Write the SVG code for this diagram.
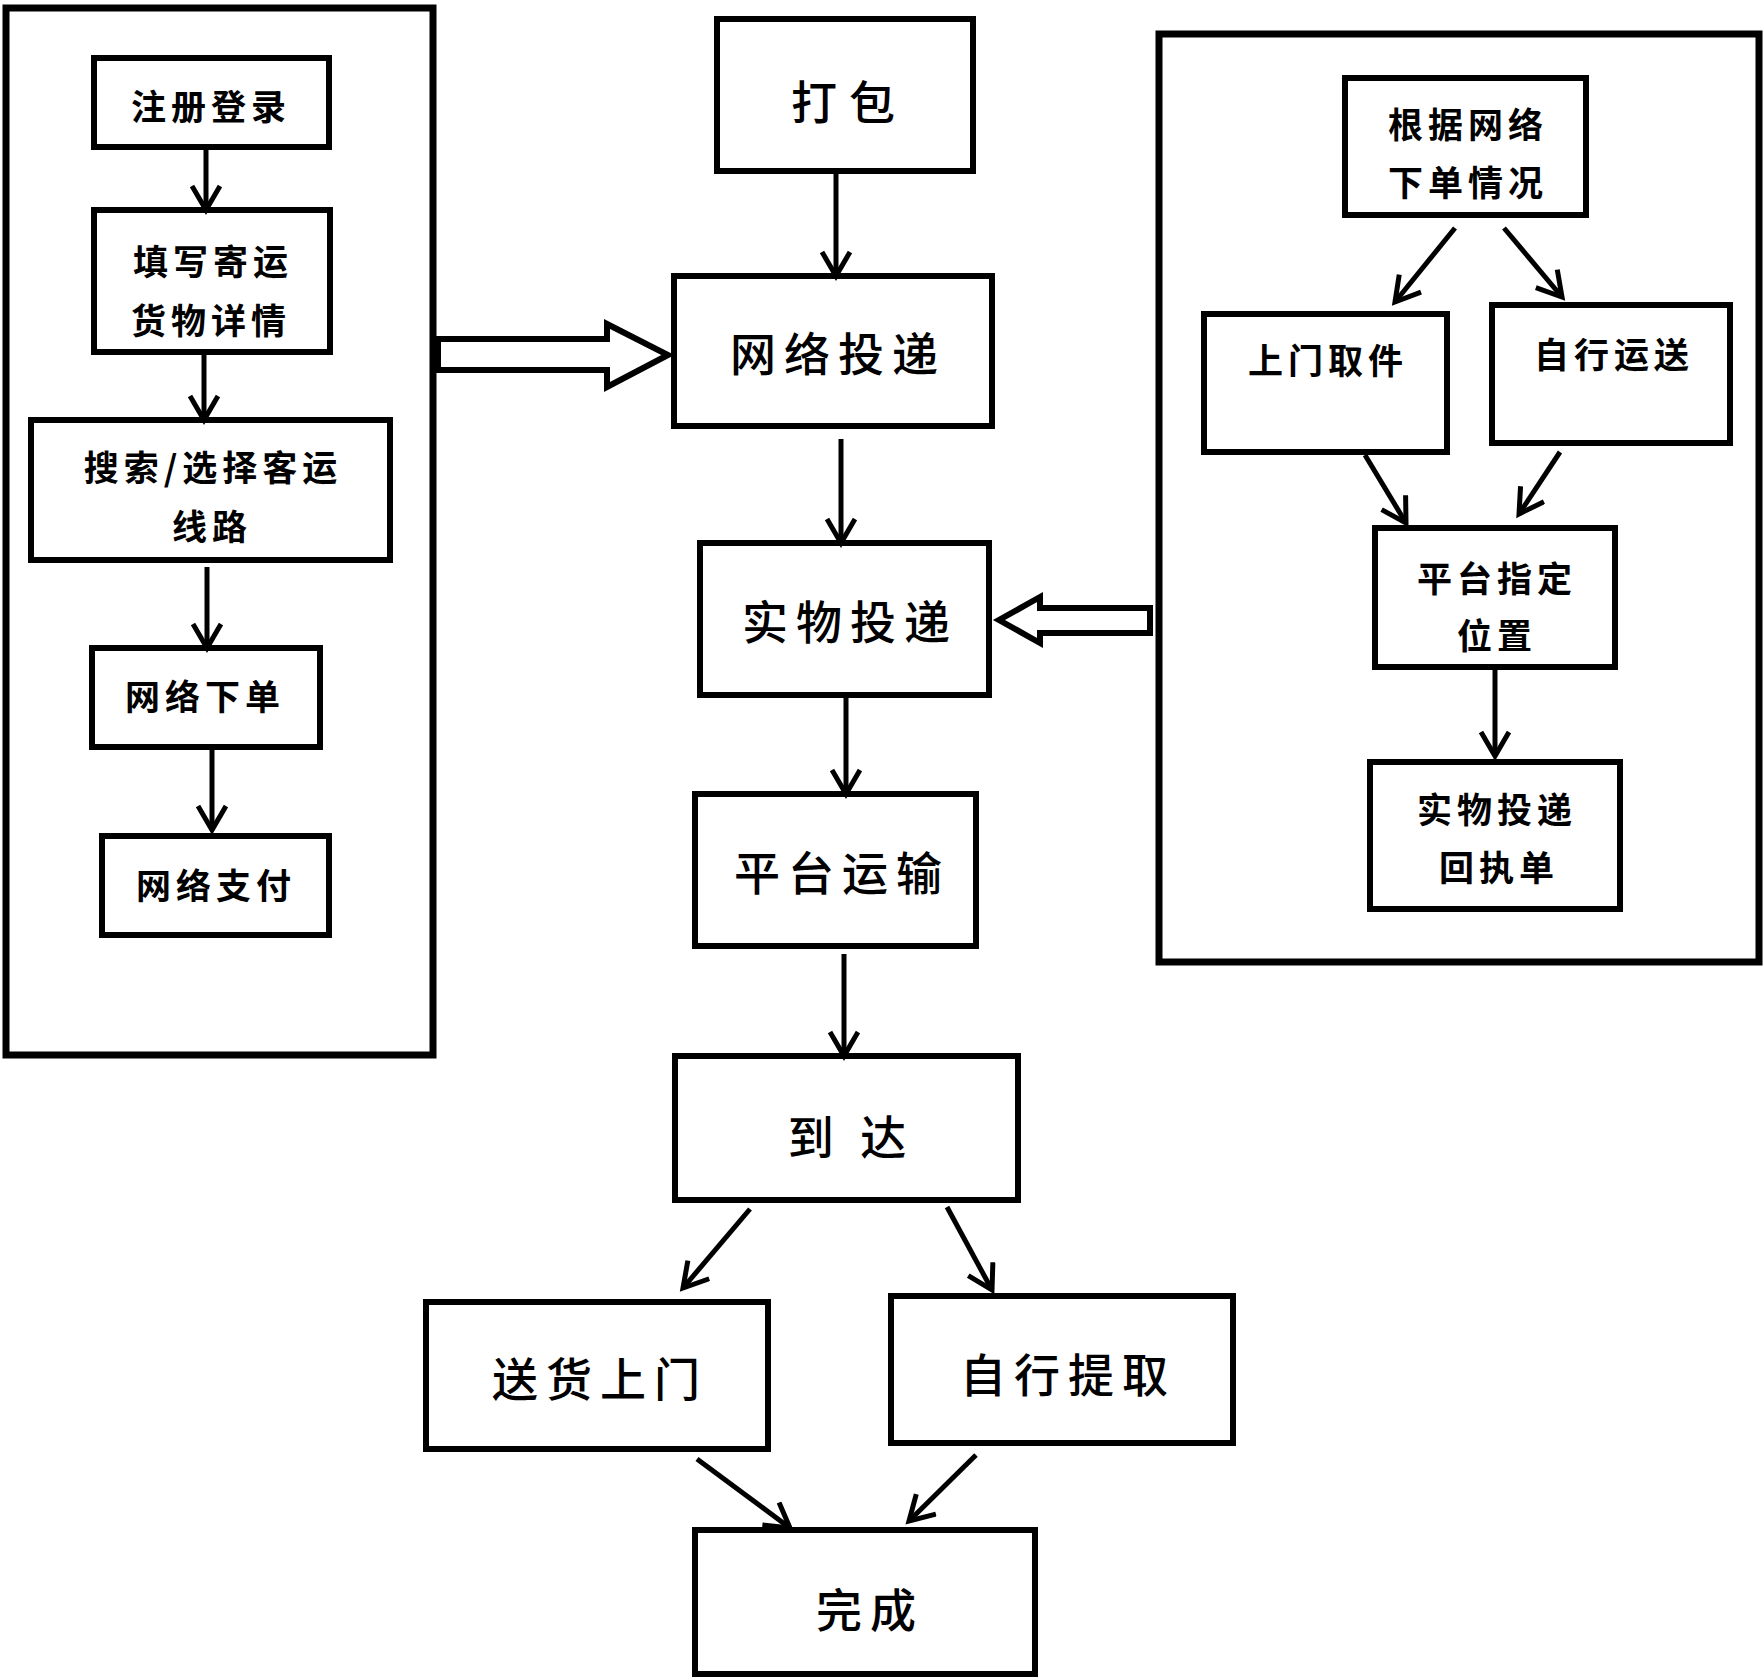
<svg xmlns="http://www.w3.org/2000/svg" width="1764" height="1680" viewBox="0 0 1764 1680">
<defs>
<style>
.box{fill:#fff;stroke:#000;stroke-width:6}
.big{fill:none;stroke:#000;stroke-width:7}
.t{font-family:"Noto Sans CJK SC","Liberation Serif",sans-serif;fill:#000;text-anchor:middle;dominant-baseline:central}
.s{font-size:35px;font-weight:bold;letter-spacing:5px}
.m{font-size:46px;font-weight:500;letter-spacing:8px}
.c{fill:none;stroke:#000;stroke-width:5;marker-end:url(#ah)}
.blk{fill:#fff;stroke:#000;stroke-width:6;stroke-linejoin:miter}
</style>
<marker id="ah" markerUnits="userSpaceOnUse" markerWidth="40" markerHeight="40" refX="27" refY="16" orient="auto">
<path d="M3,2 L27,16 L3,30" fill="none" stroke="#000" stroke-width="5"/>
</marker>
</defs>
<rect width="1764" height="1680" fill="#fff"/>
<g id="group-left"><rect class="big" x="6" y="8" width="427" height="1047"/></g>
<g id="group-right"><rect class="big" x="1159" y="34" width="600" height="928"/></g>

<g id="n-register"><rect class="box" x="94" y="58" width="235" height="89"/><text class="t s" x="211" y="104">注册登录</text></g>
<g id="n-fill"><rect class="box" x="94" y="210" width="236" height="142"/><text class="t s" x="213" y="259">填写寄运</text><text class="t s" x="211" y="318">货物详情</text></g>
<g id="n-search"><rect class="box" x="31" y="420" width="359" height="140"/><text class="t s" x="213" y="465">搜索/选择客运</text><text class="t s" x="212" y="524">线路</text></g>
<g id="n-order"><rect class="box" x="92" y="648" width="228" height="99"/><text class="t s" x="205" y="694">网络下单</text></g>
<g id="n-pay"><rect class="box" x="102" y="836" width="227" height="99"/><text class="t s" x="216" y="883">网络支付</text></g>

<g id="c-pack"><rect class="box" x="717" y="19" width="256" height="152"/><text class="t m" x="849" y="99" style="letter-spacing:12px">打包</text></g>
<g id="c-net"><rect class="box" x="674" y="276" width="318" height="150"/><text class="t m" x="838" y="351">网络投递</text></g>
<g id="c-phys"><rect class="box" x="700" y="543" width="289" height="152"/><text class="t m" x="850" y="619">实物投递</text></g>
<g id="c-trans"><rect class="box" x="695" y="794" width="281" height="152"/><text class="t m" x="842" y="870">平台运输</text></g>
<g id="c-arrive"><rect class="box" x="675" y="1056" width="343" height="144"/><text class="t m" x="851" y="1134" xml:space="preserve">到 达</text></g>
<g id="c-door"><rect class="box" x="426" y="1302" width="342" height="147"/><text class="t m" x="600" y="1376">送货上门</text></g>
<g id="c-self"><rect class="box" x="891" y="1296" width="342" height="147"/><text class="t m" x="1068" y="1372">自行提取</text></g>
<g id="c-done"><rect class="box" x="695" y="1530" width="340" height="144"/><text class="t m" x="870" y="1607">完成</text></g>

<g id="r-basis"><rect class="box" x="1345" y="78" width="241" height="137"/><text class="t s" x="1468" y="122">根据网络</text><text class="t s" x="1468" y="180">下单情况</text></g>
<g id="r-pickup"><rect class="box" x="1204" y="314" width="243" height="138"/><text class="t s" x="1328" y="358">上门取件</text></g>
<g id="r-selfship"><rect class="box" x="1492" y="305" width="238" height="138"/><text class="t s" x="1614" y="352">自行运送</text></g>
<g id="r-place"><rect class="box" x="1375" y="528" width="240" height="139"/><text class="t s" x="1497" y="576">平台指定</text><text class="t s" x="1497" y="633">位置</text></g>
<g id="r-receipt"><rect class="box" x="1370" y="762" width="250" height="147"/><text class="t s" x="1497" y="807">实物投递</text><text class="t s" x="1499" y="865">回执单</text></g>

<g id="connectors">
<line class="c" x1="206" y1="147" x2="206" y2="210"/>
<line class="c" x1="204" y1="352" x2="204" y2="420"/>
<line class="c" x1="207" y1="567" x2="207" y2="648"/>
<line class="c" x1="212" y1="747" x2="212" y2="830"/>
<line class="c" x1="836" y1="171" x2="836" y2="276"/>
<line class="c" x1="841" y1="439" x2="841" y2="543"/>
<line class="c" x1="846" y1="695" x2="846" y2="794"/>
<line class="c" x1="844" y1="954" x2="844" y2="1056"/>
<line class="c" x1="750" y1="1209" x2="683" y2="1288"/>
<line class="c" x1="947" y1="1207" x2="992" y2="1290"/>
<line class="c" x1="697" y1="1459" x2="790" y2="1528"/>
<line class="c" x1="976" y1="1455" x2="909" y2="1521"/>
<line class="c" x1="1455" y1="228" x2="1395" y2="302"/>
<line class="c" x1="1504" y1="228" x2="1562" y2="297"/>
<line class="c" x1="1365" y1="455" x2="1406" y2="523"/>
<line class="c" x1="1560" y1="452" x2="1519" y2="514"/>
<line class="c" x1="1495" y1="670" x2="1495" y2="756"/>
<polygon class="blk" points="438,339 607,339 607,324 668,355 607,387 607,370 438,370"/>
<polygon class="blk" points="1150,608 1040,608 1040,597 999,620 1040,643 1040,633 1150,633"/>
</g>
</svg>
